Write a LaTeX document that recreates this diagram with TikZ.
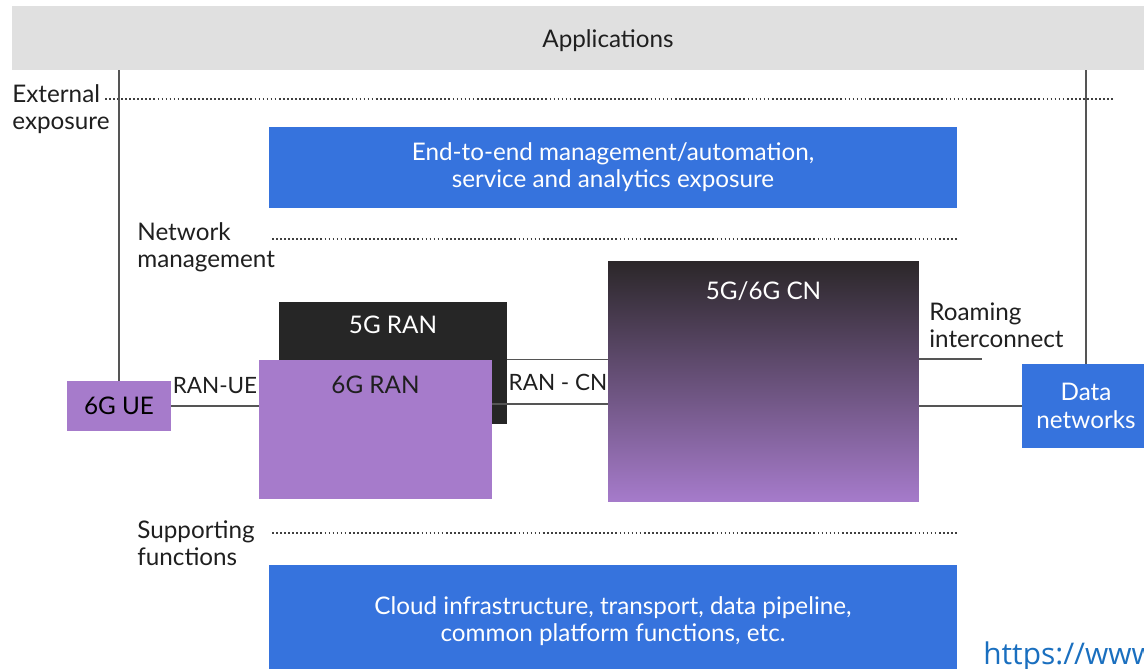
\documentclass[tikz,border=0pt]{standalone}
\usepackage{fontspec}
\setmainfont{Lato}
\usepackage{xcolor}
\usepackage{tikz}
\usetikzlibrary{positioning, calc}
\definecolor{appgray}{HTML}{E0E0E0}
\definecolor{netblue}{HTML}{3673DD}
\definecolor{sixpurple}{HTML}{A67BCB}
\definecolor{fivedark}{HTML}{262626}
\definecolor{cntop}{HTML}{2B2729}
\definecolor{wireg}{HTML}{555555}
\definecolor{urlblue}{HTML}{1A6FBF}
\tikzset{
  panel/.style  ={rectangle, draw=none, inner sep=0pt, align=center,
                  font=\fontsize{13.8}{15.5}\selectfont},
  bluebox/.style={panel, fill=netblue, text=white},
  lbl/.style    ={font=\fontsize{13.8}{15.5}\selectfont, text=black!88,
                  align=left, inner sep=0pt},
  ifc/.style    ={lbl, font=\fontsize{12.8}{15}\selectfont},
  wire/.style   ={draw=wireg, line width=0.8pt},
  sep/.style    ={draw=black!75, line width=0.6pt,
                  dash pattern=on 1pt off 1.3pt}
}

\begin{document}
\begin{tikzpicture}[x=0.02cm, y=-0.02cm]
\useasboundingbox (0,0) rectangle (1144,669);

%  Top layers 
\node[panel, fill=appgray, minimum width=22.96cm, minimum height=1.28cm]
      (apps) at (586,38) {};
\node[lbl] (appstxt) at (608,41) {Applications};
\node[lbl, anchor=west] (extlbl) at (12,109) {External\\exposure};
\node[bluebox, minimum width=13.76cm, minimum height=1.62cm] (e2e) at (613,167.5)
      {End-to-end management/automation,\\service and analytics exposure};
\node[lbl, anchor=west] (nmlbl) at (137,247) {Network\\management};

%  RAN and core 
\node[panel, fill=fivedark, minimum width=4.56cm, minimum height=2.44cm]
      (ran5) at (393,363) {};
\node[lbl, text=white, below=2.7mm of ran5.north] (ran5txt) {5G RAN};
\node[panel, fill=sixpurple, minimum width=4.66cm, minimum height=2.78cm]
      (ran6) at (375.5,429.5) {};
\node[lbl, below=3.2mm of ran6.north] (ran6txt) {6G RAN};
\node[panel, fill=sixpurple, minimum width=2.08cm, minimum height=1.0cm]
      (ue) at (119,406) {6G UE};
\node[panel, top color=cntop, bottom color=sixpurple,
      minimum width=6.22cm, minimum height=4.82cm] (cn) at (763.5,381.5) {};
\node[lbl, text=white, below=4.1mm of cn.north] (cntxt) {5G/6G CN};
\node[bluebox, minimum width=2.56cm, minimum height=1.68cm]
      (dn) at (1086,406) {Data\\networks};
\node[ifc] (ranue) at (215,386) {RAN-UE};
\node[ifc] (rancn) at (558,382) {RAN - CN};
\node[lbl, anchor=west] (roamlbl) at (929,325) {Roaming\\interconnect};
\coordinate (roamend) at (982,359);

%  Bottom layer 
\node[lbl, anchor=west] (suplbl) at (137,543) {Supporting\\functions};
\node[bluebox, minimum width=13.76cm, minimum height=2.24cm] (infra) at (613,621)
      {Cloud infrastructure, transport, data pipeline,\\common platform functions, etc.};
\node[anchor=base west, inner sep=0pt, text=urlblue,
      font=\fontspec{Open Sans}\fontsize{17}{20}\selectfont] (url) at (983,664)
      {https://www};

%  Separators 
\draw[sep] (105,99) -- (1113,99);
\draw[sep] (272,239) -- (957,239);
\draw[sep] (272,533) -- (957,533);

%  Connections 
\draw[wire] (ue.north) -- (ue.north |- apps.south);
\draw[wire] (dn.north) -- (dn.north |- apps.south);
\draw[wire] (ue.east) -- (ran6.west |- ue.east);
\draw[wire] (ran5.east |- ran6.north) -- (cn.west |- ran6.north);
\draw[wire] ($(ran6.east |- ue)+(0,-2)$) -- ($(cn.west |- ue)+(0,-2)$);
\draw[wire] (cn.east |- roamend) -- (roamend);
\draw[wire] (cn.east |- dn) -- (dn.west);
\end{tikzpicture}
\end{document}
